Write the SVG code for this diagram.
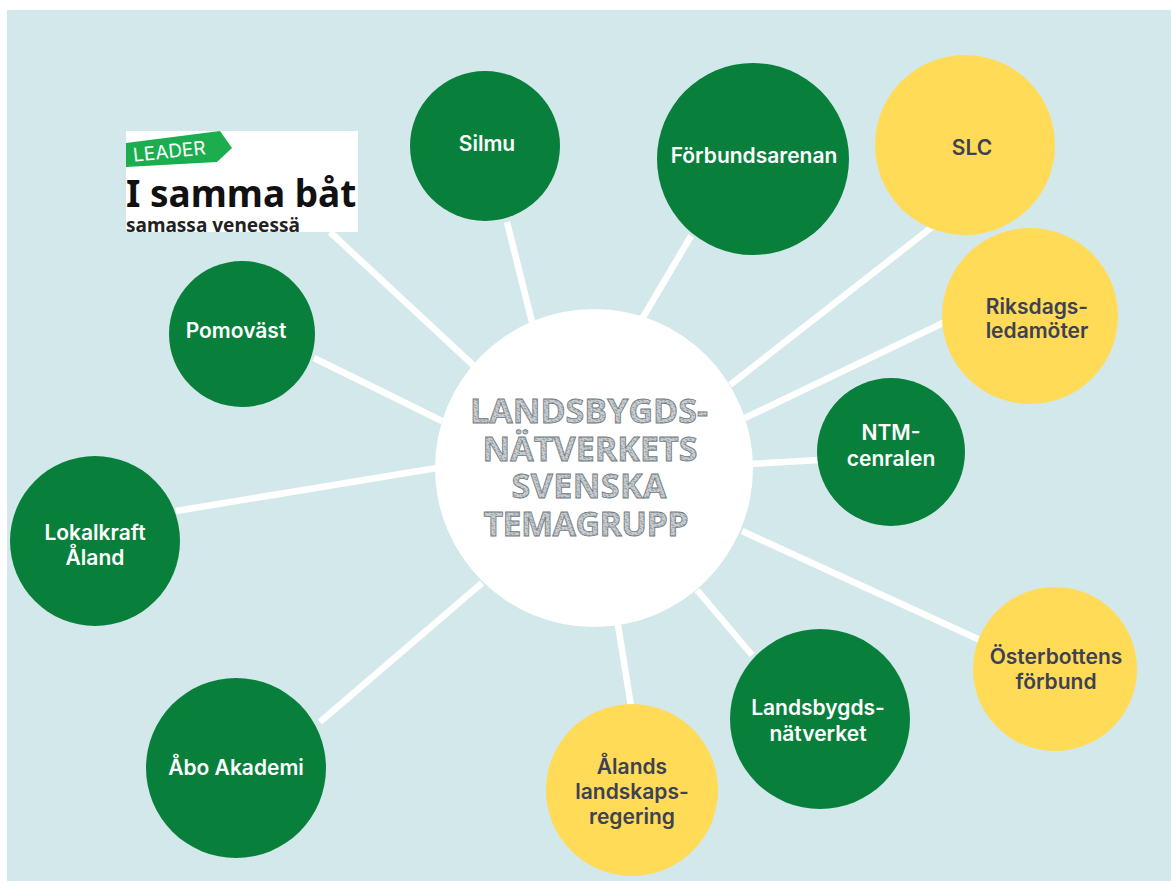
<svg xmlns="http://www.w3.org/2000/svg" width="1171" height="883" viewBox="0 0 1171 883">
<style>
.g{fill:#08803c}.y{fill:#ffdb58}
.c{stroke:#fff;stroke-width:6.500;fill:none}
text{font-family:"Inter","Open Sans","Liberation Sans",sans-serif;font-weight:600;text-anchor:middle}
.w{fill:#fff;font-size:21px}
.d{fill:#3d4152;font-size:21px}
.t{font-family:"Open Sans","Liberation Sans",sans-serif;font-size:34px;font-weight:700;fill:url(#tex);stroke:#6f787e;stroke-width:.8}
.l{font-family:"Noto Sans","Open Sans",sans-serif;font-weight:700;text-anchor:start}
</style>
<defs>
<pattern id="tex" width="5" height="5" patternUnits="userSpaceOnUse" patternTransform="rotate(25)">
<rect width="5" height="5" fill="#c8cdd0"/>
<path d="M0 1.500H3M2 3.500H5" stroke="#7b858b" stroke-width=".7"/>
</pattern>
</defs>
<rect width="1171" height="883" fill="#fff"/>
<rect x="7" y="10" width="1164" height="871" fill="#d3e8ea"/>
<g id="connectors" class="c">
<line x1="473" y1="365" x2="330" y2="232"/>
<line x1="532" y1="322" x2="507" y2="222"/>
<line x1="642" y1="319" x2="691" y2="236"/>
<line x1="730" y1="385" x2="932" y2="227"/>
<line x1="745" y1="418" x2="945" y2="322"/>
<line x1="750" y1="464" x2="820" y2="460"/>
<line x1="742" y1="531" x2="980" y2="640"/>
<line x1="697" y1="590" x2="752" y2="655"/>
<line x1="618" y1="625" x2="631" y2="706"/>
<line x1="482" y1="583" x2="320" y2="722"/>
<line x1="437" y1="468" x2="176" y2="511"/>
<line x1="442" y1="421" x2="314" y2="358"/>
</g>
<g id="center"><circle cx="594" cy="468" r="159" fill="#fff"/>
<text class="t" x="589" y="423" textLength="238">LANDSBYGDS-</text>
<text class="t" x="590" y="461" textLength="215">NÄTVERKETS</text>
<text class="t" x="589" y="498" textLength="155">SVENSKA</text>
<text class="t" x="586" y="536" textLength="205">TEMAGRUPP</text></g>
<g id="leader">
<rect x="126" y="131" width="232" height="101" fill="#fff"/>
<path d="M126 143 L220 131 L232 148 L217 162 L126 167Z" fill="#1cae4e"/>
<text x="170" y="158" font-size="19" fill="#fff" transform="rotate(-6 170 158)" style="font-weight:400">LEADER</text>
<text class="l" x="126" y="207" font-size="37" fill="#111">I samma båt</text>
<text class="l" x="126" y="232" font-size="19" fill="#222">samassa veneessä</text>
</g>
<g id="silmu"><circle class="g" cx="485" cy="146" r="75"/><text class="w" x="487" y="151">Silmu</text></g>
<g id="forbundsarenan"><circle class="g" cx="753" cy="159" r="96"/><text class="w" x="754" y="163">Förbundsarenan</text></g>
<g id="slc"><circle class="y" cx="965" cy="145" r="90"/><text class="d" x="972" y="155">SLC</text></g>
<g id="riksdag"><circle class="y" cx="1030" cy="316" r="88"/><text class="d" x="1037" y="314">Riksdags-</text><text class="d" x="1037" y="338">ledamöter</text></g>
<g id="ntm"><circle class="g" cx="891" cy="452" r="74"/><text class="w" x="891" y="440">NTM-</text><text class="w" x="891" y="466">cenralen</text></g>
<g id="osterbotten"><circle class="y" cx="1055" cy="669" r="82"/><text class="d" x="1056" y="664">Österbottens</text><text class="d" x="1056" y="689">förbund</text></g>
<g id="landsbygd"><circle class="g" cx="820" cy="719" r="90"/><text class="w" x="818" y="715">Landsbygds-</text><text class="w" x="818" y="741">nätverket</text></g>
<g id="aland"><circle class="y" cx="632" cy="790" r="86"/><text class="d" x="632" y="774">Ålands</text><text class="d" x="632" y="799">landskaps-</text><text class="d" x="632" y="824">regering</text></g>
<g id="abo"><circle class="g" cx="236" cy="768" r="90"/><text class="w" x="236" y="775">Åbo Akademi</text></g>
<g id="lokalkraft"><circle class="g" cx="95" cy="541" r="85"/><text class="w" x="95" y="540">Lokalkraft</text><text class="w" x="95" y="565">Åland</text></g>
<g id="pomovast"><circle class="g" cx="242" cy="334" r="73"/><text class="w" x="236" y="338">Pomoväst</text></g>
</svg>
